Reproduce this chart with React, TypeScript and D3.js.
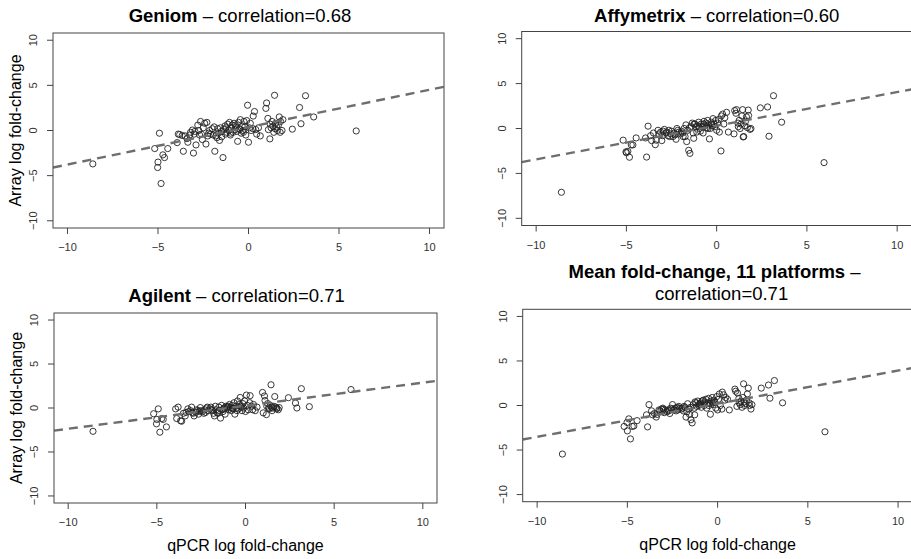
import React from 'react'
import * as d3 from 'd3'

const width = 911
const height = 559

// qPCR log fold-change, shared by all four panels
const qpcr = [
  -8.6, 5.95, 3.6, 3.15, 2.9, 2.82, 2.42, -5.18, -4.92, -5.0,
  -5.02, -4.83, -4.73, -4.64, -4.46, -3.94, -3.88, -3.8, -3.66, -3.6,
  -3.5, -3.4, -3.35, -3.2, -3.1, -3.04, -2.96, -2.9, -2.8, -2.7,
  -2.65, -2.55, -2.5, -2.42, -2.35, -2.3, -2.25, -2.2, -2.1, -2.0,
  -1.95, -1.86, -1.8, -1.75, -1.7, -1.66, -1.6, -1.55, -1.48, -1.41,
  -1.35, -1.3, -1.27, -1.2, -1.15, -1.1, -1.05, -1.0, -0.95, -0.9,
  -0.85, -0.8, -0.75, -0.7, -0.65, -0.6, -0.55, -0.5, -0.45, -0.4,
  -0.35, -0.3, -0.25, -0.2, -0.15, -0.1, -0.05, 0.0, 0.05, 0.1,
  0.15, 0.24, 0.26, 0.33, 0.4, 0.45, 0.55, 0.65, 0.96, 1.0,
  1.07, 1.1, 1.18, 1.2, 1.25, 1.3, 1.35, 1.4, 1.44, 1.47,
  1.5, 1.55, 1.6, 1.65, 1.7, 1.75, 1.77, 1.85, 1.9, -2.75,
  -2.6, -2.15, -1.9, -1.5, -1.25, -0.98, -0.72, -0.48, -0.28, -3.25,
  -3.0,
]

const geniom = [
  -3.7, -0.05, 1.5, 3.85, 0.75, 2.55, 0.15, -2.0, -0.3, -3.5,
  -4.1, -5.87, -2.7, -3.0, -2.0, -1.34, -0.4, -0.45, -0.55, -2.3,
  -0.6, -0.9, -1.3, -0.2, 0.05, -2.5, -0.1, -1.6, 0.6, -0.5,
  1.0, -1.0, 0.3, 0.8, -1.5, 0.9, -0.6, -0.3, -0.4, 0.2,
  -0.5, -2.3, -0.6, -0.8, 0.2, -0.3, -1.1, 0.3, -0.7, -3.0,
  0.1, 0.5, -0.4, -0.2, 0.7, 0.0, 0.9, -0.5, 0.3, 0.6,
  -0.2, 0.8, 0.1, 0.4, -0.1, -1.2, 0.9, 0.2, 1.2, -0.3,
  0.5, 0.0, 1.0, 0.4, -0.5, 1.1, 2.8, -1.3, 0.3, 0.8,
  0.0, 0.2, 1.6, 2.1, 0.1, -0.4, 0.3, -0.6, 2.45, 3.05,
  1.34, 0.1, -0.93, 0.7, 0.3, 1.0, 0.5, -0.2, 3.9, 0.2,
  0.8, 0.4, 0.0, 0.6, 1.5, -0.2, 1.0, 0.0, 1.2, 0.0,
  -0.4, 0.0, 0.4, -0.1, 0.3, -0.3, 0.6, 0.1, -0.2, -0.5,
  -0.4,
]

const affymetrix = [
  -7.1, -3.8, 0.7, 3.65, -0.86, 2.4, 2.3, -1.3, -2.55, -2.7,
  -2.6, -3.2, -1.83, -1.83, -1.05, -1.05, -3.18, 0.26, -0.8, -1.35,
  -0.5, -1.8, -1.3, -0.6, -0.4, -1.35, -0.3, -0.1, -0.5, -0.8,
  -0.2, -0.6, -0.3, -0.9, -0.5, -0.7, -1.2, 0.0, -0.4, -0.6,
  -0.3, -0.9, 0.0, -0.9, 0.4, -1.46, -0.2, -2.43, -2.77, 0.2,
  0.6, -0.5, -1.09, 0.5, 0.2, -0.4, 0.3, 0.7, 0.0, -0.3,
  0.5, 0.2, -0.5, 0.8, 0.3, 0.6, 0.1, 0.9, 0.4, -1.16,
  0.0, 0.7, 0.3, 1.1, 0.5, 0.2, 0.9, -0.2, 0.6, 1.0,
  -0.4, -2.5, 1.4, 1.6, 0.5, 1.2, 1.8, -0.4, -0.6, 2.0,
  1.7, 2.1, 0.6, 0.2, 0.9, 0.0, 0.5, 1.4, 2.1, -0.94,
  -0.9, 0.3, 0.8, 1.3, 0.1, 2.05, 1.45, -0.1, 0.0, -0.4,
  -0.9, -0.2, -0.5, 0.1, 0.5, 0.2, 0.5, 0.0, 0.5, -0.2,
  -0.8,
]

const agilent = [
  -2.65, 2.1, 0.15, 2.2, 0.0, 0.56, 1.17, -0.65, -0.1, -1.3,
  -1.8, -2.75, -1.2, -1.3, -2.15, -0.1, -1.2, 0.1, -1.45, -1.5,
  -0.6, -0.9, -0.5, -0.4, -0.3, 0.1, -0.6, -0.9, -0.5, -0.3,
  -0.7, 0.05, -0.3, -0.4, -0.6, -0.2, -0.5, 0.0, -0.3, -0.1,
  0.1, -0.3, -0.6, -0.9, 0.2, -0.2, -0.5, -0.6, -0.3, -1.15,
  0.3, -0.2, -0.4, 0.0, -0.7, 0.2, 0.0, 0.1, -0.2, 0.4,
  0.0, -0.3, 0.3, -0.1, 0.6, -0.7, 0.2, 0.0, 0.8, -0.1,
  0.4, 1.2, 0.1, -0.3, 0.5, 0.0, 0.8, -0.4, 1.47, 0.3,
  -0.2, 0.6, 1.4, 0.2, -0.2, 0.4, -0.3, 0.1, 1.77, -0.55,
  1.37, 0.85, -0.75, 0.2, 0.5, 0.0, -0.1, 0.3, 2.64, 0.1,
  -0.3, 0.0, 0.2, 1.3, 0.1, -0.1, 0.0, -0.2, 0.05, -0.2,
  -0.4, 0.1, -0.2, 0.1, -0.1, 0.2, 0.0, -0.3, 0.2, -0.1,
  -0.5,
]

const meanFc = [
  -5.45, -2.95, 0.3, 2.8, 0.82, 2.3, 1.95, -2.35, -1.5, -2.85,
  -1.9, -3.75, -2.35, -2.3, -1.7, -1.05, -2.4, 0.1, -0.6, -1.05,
  -0.9, -1.3, -1.0, -0.6, -0.4, -0.3, -0.8, -0.5, -0.7, -0.6,
  -0.9, -0.4, 0.1, -0.5, -0.3, -0.6, -0.2, -0.5, -0.3, -0.4,
  -0.3, -0.1, -0.2, -1.3, -0.7, 0.2, -0.4, -1.0, -1.6, -1.95,
  0.1, -0.3, -1.05, 0.3, -0.1, 0.5, 0.0, 0.2, 0.3, -0.2,
  0.5, 0.6, 0.0, 0.4, 0.7, -0.3, 0.3, 0.8, 0.2, -0.98,
  0.5, 0.9, 0.1, 0.6, 0.4, -0.3, 1.0, -0.5, 0.7, 1.3,
  0.0, -0.4, 1.5, 1.2, 0.6, 0.9, 0.7, -0.5, 1.84, 1.6,
  -0.1, 1.4, 0.8, 0.3, 0.1, 0.5, -0.2, 0.9, 2.43, 0.4,
  0.0, 0.2, 0.6, 1.3, 1.95, 0.3, 0.0, -0.4, 0.1, -0.5,
  -0.3, -0.1, -0.6, -0.2, 0.4, 0.1, 0.2, 0.0, 0.3, -0.5,
  -0.4,
]

const platforms = ['Geniom', 'Affymetrix', 'Agilent', 'Mean fold-change, 11 platforms']
const correlations = ['0.68', '0.60', '0.71', '0.71']
const fitSlope = [0.414, 0.375, 0.262, 0.372]
const fitIntercept = [0.37, 0.31, 0.26, 0.2]
const tickValues = [-10, -5, 0, 5, 10]
const domain = [-10.8, 10.8]

const FONT = '"Liberation Sans", Arial, Helvetica, sans-serif'

// plot boxes in pixels: left, right, top, bottom; tdx/tdy = title nudge
const boxes = [
  { l: 53, r: 444, t: 33, b: 228, tdx: -8.5, tdy: -11 },
  { l: 521.7, r: 911.6, t: 31.5, b: 225.5, tdx: 0, tdy: -10 },
  { l: 54, r: 437, t: 313, b: 503, tdx: -9, tdy: -11.5 },
  { l: 522.7, r: 912.5, t: 309.3, b: 501.7, tdx: -3, tdy: -9.5 },
]

const fmt = (v: number) => (v < 0 ? '\u2212' + Math.abs(v) : String(v))

type PanelProps = {
  idx: number
  ys: number[]
  yLabel: boolean
  xLabel: boolean
}

const Panel = ({ idx, ys, yLabel, xLabel }: PanelProps) => {
  const box = boxes[idx]
  const x = d3.scaleLinear().domain(domain).range([box.l, box.r])
  const y = d3.scaleLinear().domain(domain).range([box.b, box.t])
  const clipId = `clip${idx}`
  const cx = (box.l + box.r) / 2
  const cy = (box.t + box.b) / 2
  const fitLine = d3.line<number>()
    .x(d => x(d))
    .y(d => y(fitIntercept[idx] + fitSlope[idx] * d))(domain)

  return (
    <g>
      <defs>
        <clipPath id={clipId}>
          <rect x={box.l} y={box.t} width={box.r - box.l} height={box.b - box.t} />
        </clipPath>
      </defs>
      {qpcr.map((q, i) => (
        <circle key={i} cx={x(q)} cy={y(ys[i])} r={3.1} fill="none" stroke="#222" strokeWidth={0.9} />
      ))}
      <path d={fitLine || ''} clipPath={`url(#${clipId})`} fill="none" stroke="#6e6e6e"
        strokeWidth={2.4} strokeDasharray="9,6" />
      <rect x={box.l} y={box.t} width={box.r - box.l} height={box.b - box.t}
        fill="none" stroke="#444" strokeWidth={1} />
      {tickValues.map(t => (
        <g key={'x' + t}>
          <line x1={x(t)} x2={x(t)} y1={box.b} y2={box.b + 6} stroke="#444" />
          <text x={x(t)} y={box.b + 23} textAnchor="middle" fontSize={11} fill="#333" fontFamily={FONT}>{fmt(t)}</text>
        </g>
      ))}
      {tickValues.map(t => (
        <g key={'y' + t}>
          <line x1={box.l - 6} x2={box.l} y1={y(t)} y2={y(t)} stroke="#444" />
          <text transform={`translate(${box.l - 16},${y(t)}) rotate(-90)`} textAnchor="middle"
            fontSize={11} fill="#333" fontFamily={FONT}>{fmt(t)}</text>
        </g>
      ))}
      {yLabel && (
        <text transform={`translate(${box.l - 32},${cy}) rotate(-90)`} textAnchor="middle"
          fontSize={16} fill="#000" fontFamily={FONT}>Array log fold-change</text>
      )}
      {xLabel && (
        <text x={cx} y={box.b + 48} textAnchor="middle" fontSize={16} fill="#000" fontFamily={FONT}>
          qPCR log fold-change
        </text>
      )}
      {idx < 3 ? (
        <text x={cx + box.tdx} y={box.t + box.tdy} textAnchor="middle" fontSize={18.5} fill="#000" fontFamily={FONT}>
          <tspan fontWeight="bold">{platforms[idx]}</tspan>
          <tspan>{` \u2013 correlation=${correlations[idx]}`}</tspan>
        </text>
      ) : (
        <g fontFamily={FONT} fontSize={18.5} fill="#000">
          <text x={cx + box.tdx} y={box.t - 31} textAnchor="middle">
            <tspan fontWeight="bold">{platforms[idx]}</tspan>
            <tspan>{'  \u2013'}</tspan>
          </text>
          <text x={cx + 4} y={box.t + box.tdy} textAnchor="middle">{`correlation=${correlations[idx]}`}</text>
        </g>
      )}
    </g>
  )
}

const App = () => {
  const series = [geniom, affymetrix, agilent, meanFc]
  return (
    <svg width={width} height={height} style={{ position: 'absolute', left: 0, top: 0, background: '#fff' }}>
      {series.map((ys, i) => (
        <Panel key={i} idx={i} ys={ys} yLabel={i % 2 === 0} xLabel={i >= 2} />
      ))}
    </svg>
  )
}

export default App
